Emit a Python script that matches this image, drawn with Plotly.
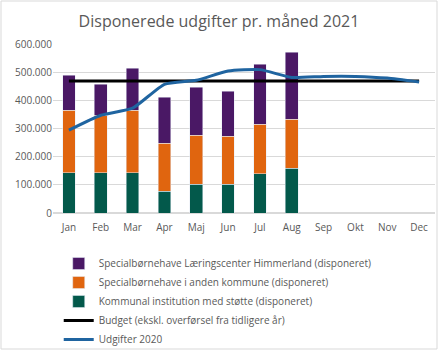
import plotly.graph_objects as go

months = ["Jan", "Feb", "Mar", "Apr", "Maj", "Jun", "Jul", "Aug", "Sep", "Okt", "Nov", "Dec"]
kommunal = [143000, 143000, 143000, 77000, 102000, 102000, 140000, 159000]
anden_kommune = [222000, 204000, 222000, 170000, 174000, 170000, 175000, 174000]
laeringscenter = [124000, 110000, 149000, 164000, 170000, 160000, 213000, 237000]
budget = [469000] * 12
udgifter_2020 = [294000, 347000, 372000, 457000, 471000, 504000, 509000, 481000, 485000, 485000, 479000, 465000]

names = [
    "Specialbørnehave Læringscenter Himmerland (disponeret)",
    "Specialbørnehave i anden kommune (disponeret)",
    "Kommunal institution med støtte (disponeret)",
    "Budget (ekskl. overførsel fra tidligere år)",
    "Udgifter 2020",
]
tick_vals = [0, 100000, 200000, 300000, 400000, 500000, 600000]
tick_text = ["0", "100.000", "200.000", "300.000", "400.000", "500.000", "600.000"]

fig = go.Figure()
fig.add_trace(go.Bar(x=months[:len(kommunal)], y=kommunal, name=names[2],
                     marker_color="#03594b", legendrank=3))
fig.add_trace(go.Bar(x=months[:len(anden_kommune)], y=anden_kommune, name=names[1],
                     marker_color="#e0650f", legendrank=2))
fig.add_trace(go.Bar(x=months[:len(laeringscenter)], y=laeringscenter, name=names[0],
                     marker_color="#4a1865", legendrank=1))
fig.add_trace(go.Scatter(x=months, y=budget, name=names[3], mode="lines",
                         line=dict(color="#000000", width=3), legendrank=4))
fig.add_trace(go.Scatter(x=months, y=udgifter_2020, name=names[4], mode="lines",
                         line=dict(color="#1f64a0", width=3, shape="spline", smoothing=0.5),
                         legendrank=5))

fig.update_layout(
    width=438, height=350,
    barmode="stack", bargap=0.6,
    paper_bgcolor="white", plot_bgcolor="white",
    margin=dict(l=53, r=3, t=44, b=137),
    font=dict(family="Open Sans, Lato, sans-serif", size=10, color="#595959"),
    title=dict(text="Disponerede udgifter pr. måned 2021", x=0.5, xref="container",
               y=0.955, yref="container", xanchor="center",
               font=dict(size=16, color="#595959")),
    xaxis=dict(categoryorder="array", categoryarray=months, range=[-0.5, 11.5],
               showgrid=False, showline=False, ticks="", tickfont=dict(size=10),
               ticklabelstandoff=7),
    yaxis=dict(range=[0, 600000], tickvals=tick_vals, ticktext=tick_text,
               gridcolor="#d9d9d9", gridwidth=1, zeroline=True, zerolinecolor="#d9d9d9",
               showline=False, ticks="", tickfont=dict(size=10)),
    legend=dict(orientation="v", x=0.015, xanchor="left",
                y=1 - 249/350, yref="container", yanchor="top",
                traceorder="normal",
                font=dict(size=10, color="#595959"), itemwidth=30,
                tracegroupgap=0, bgcolor="rgba(0,0,0,0)"),
    shapes=[dict(type="rect", xref="paper", yref="paper",
                 x0=-52/382, x1=1+2/382, y0=-136/169, y1=1+43/169,
                 line=dict(color="#d9d9d9", width=1))],
)

fig.write_html("out.html")
